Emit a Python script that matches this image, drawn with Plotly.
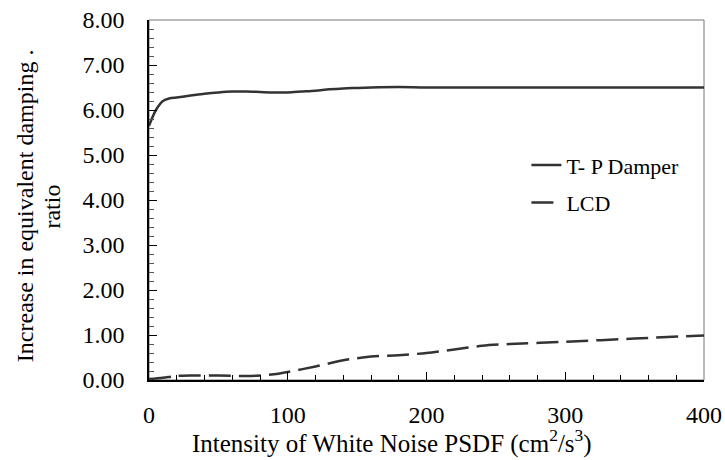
import plotly.graph_objects as go

# T-P Damper series
tp_x = [0, 5, 10, 15, 20, 30, 40, 50, 60, 70, 80, 90, 100, 110, 120, 130, 140, 150, 160, 180, 200, 250, 300, 350, 400]
tp_y = [5.65, 6.00, 6.20, 6.26, 6.28, 6.32, 6.36, 6.39, 6.41, 6.41, 6.40, 6.39, 6.39, 6.41, 6.43, 6.46, 6.48, 6.49, 6.50, 6.51, 6.50, 6.50, 6.50, 6.50, 6.50]

# LCD series
lcd_x = [0, 10, 20, 30, 50, 70, 80, 90, 100, 120, 140, 160, 180, 200, 220, 240, 260, 300, 350, 400]
lcd_y = [0.02, 0.05, 0.09, 0.10, 0.10, 0.09, 0.10, 0.13, 0.18, 0.30, 0.44, 0.52, 0.55, 0.60, 0.68, 0.76, 0.80, 0.85, 0.92, 0.99]

series_names = ["T- P Damper", "LCD"]
x_ticks = [0, 100, 200, 300, 400]
y_ticks = [0, 1, 2, 3, 4, 5, 6, 7, 8]
x_title = "Intensity of White Noise PSDF (cm<sup>2</sup>/s<sup>3</sup>)"
y_title_lines = ["Increase in equivalent damping .", "ratio"]

FONT = "Times New Roman, Liberation Serif, DejaVu Serif, serif"
LINE_COLOR = "#333333"

fig = go.Figure()
fig.add_trace(go.Scatter(x=tp_x, y=tp_y, mode="lines", name=series_names[0], legendgroup="a",
                         line=dict(color=LINE_COLOR, width=2.5, shape="spline", smoothing=0.8)))
fig.add_trace(go.Scatter(x=lcd_x, y=lcd_y, mode="lines", name=series_names[1], legendgroup="b",
                         line=dict(color=LINE_COLOR, width=2.5, shape="spline", smoothing=0.8,
                                   dash="22px,8px")))

title_font = dict(family=FONT, size=24, color="black")

fig.update_layout(
    width=725, height=460,
    margin=dict(l=149, r=21, t=20, b=80),
    paper_bgcolor="white", plot_bgcolor="white",
    font=dict(family=FONT, size=24, color="black"),
    showlegend=True,
    legend=dict(x=0.68, y=0.655, xanchor="left", yanchor="top",
                bgcolor="rgba(0,0,0,0)", font=dict(family=FONT, size=22, color="black"),
                traceorder="grouped", tracegroupgap=6),
    xaxis=dict(range=[0, 400], tickvals=x_ticks, ticks="inside", ticklen=8, tickcolor="black",
               showline=True, linecolor="black", linewidth=1.5, showgrid=False, zeroline=False,
               automargin=False, ticklabelstandoff=12, ticklabeloverflow="allow",
               tickfont=dict(family=FONT, size=24),
               minor=dict(ticks="inside", dtick=20, ticklen=5, tickcolor="black", showgrid=False)),
    yaxis=dict(range=[0, 8], tickvals=y_ticks, tickformat=".2f", ticks="inside", ticklen=8,
               tickcolor="black", showline=True, linecolor="black", linewidth=1.5,
               showgrid=False, zeroline=False, automargin=False, ticklabelstandoff=18,
               ticklabeloverflow="allow",
               tickfont=dict(family=FONT, size=24),
               minor=dict(ticks="inside", dtick=0.2, ticklen=5, tickcolor="#555555", showgrid=False)),
    annotations=[
        dict(text=x_title, xref="paper", yref="paper", x=0.438, y=-0.172,
             xanchor="center", yanchor="middle", showarrow=False,
             font=dict(family=FONT, size=25, color="black")),
        dict(text=y_title_lines[0], xref="paper", yref="paper", x=-0.2234, y=0.483,
             xanchor="center", yanchor="middle", showarrow=False, textangle=-90,
             font=title_font),
        dict(text=y_title_lines[1], xref="paper", yref="paper", x=-0.174, y=0.483,
             xanchor="center", yanchor="middle", showarrow=False, textangle=-90,
             font=title_font),
    ],
    shapes=[dict(type="rect", xref="paper", yref="paper", x0=0, y0=0, x1=1, y1=1,
                 line=dict(color="#777777", width=1), layer="below")],
)

# remove the page's default body margin so the 725x460 figure fills the window exactly
fig.write_html("out.html", config={"displayModeBar": False},
               post_script="document.body.style.margin='0';")
